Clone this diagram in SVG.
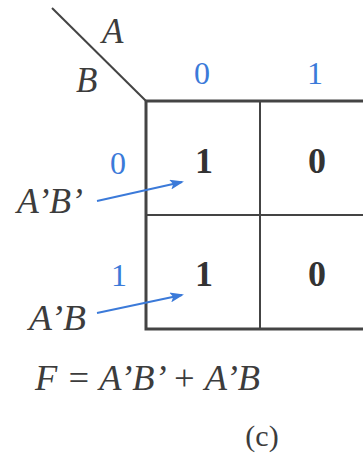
<svg xmlns="http://www.w3.org/2000/svg" width="363" height="456" viewBox="0 0 363 456">
<defs>
<style>
.it{font-family:"Liberation Serif","DejaVu Serif",serif;font-style:italic;fill:#3c3c3c;font-size:35px}
.bl{font-family:"Liberation Serif","DejaVu Serif",serif;fill:#3b7ad9;font-size:32px}
.cell{font-family:"Liberation Serif","DejaVu Serif",serif;font-weight:bold;fill:#333;font-size:36px;text-anchor:middle}
.ln{stroke:#444;fill:none}
.arr{stroke:#3b7ad9;stroke-width:2;fill:none;marker-end:url(#ah)}
</style>
<marker id="ah" markerWidth="14" markerHeight="10" refX="12" refY="5" orient="auto" markerUnits="userSpaceOnUse">
<path d="M0,0 L14,5 L0,10 L3,5 Z" fill="#3b7ad9"/>
</marker>
</defs>
<rect width="363" height="456" fill="#fff"/>
<g id="header">
<line class="ln" x1="52" y1="8" x2="146" y2="101" stroke-width="2"/>
<text class="it" x="102" y="43">A</text>
<text class="it" x="76" y="92">B</text>
<text class="bl" x="202" y="84" text-anchor="middle">0</text>
<text class="bl" x="315" y="84" text-anchor="middle">1</text>
<text class="bl" x="118" y="174" text-anchor="middle">0</text>
<text class="bl" x="119" y="286" text-anchor="middle">1</text>
</g>
<g id="grid">
<path class="ln" d="M363,101 H146 V329 H363" stroke-width="3"/>
<line class="ln" x1="146" y1="215" x2="363" y2="215" stroke-width="2"/>
<line class="ln" x1="260" y1="101" x2="260" y2="329" stroke-width="2"/>
</g>
<g id="cells">
<text class="cell" x="204" y="173">1</text>
<text class="cell" x="317" y="173">0</text>
<text class="cell" x="204" y="286">1</text>
<text class="cell" x="317" y="286">0</text>
</g>
<g id="label-AB1">
<text class="it" x="17" y="213" textLength="66" lengthAdjust="spacingAndGlyphs">A’B’</text>
</g>
<g id="label-AB2">
<text class="it" x="29" y="330" textLength="57" lengthAdjust="spacingAndGlyphs">A’B</text>
</g>
<g id="connectors">
<line class="arr" x1="97" y1="201" x2="182" y2="182"/>
<line class="arr" x1="97" y1="313" x2="182" y2="295"/>
</g>
<g id="formula">
<text class="it" x="35" y="390" textLength="225" lengthAdjust="spacingAndGlyphs">F = A’B’ + A’B</text>
</g>
<g id="caption">
<text x="262" y="446" text-anchor="middle" font-family="Liberation Serif, serif" font-size="30" fill="#3c3c3c">(c)</text>
</g>
</svg>
